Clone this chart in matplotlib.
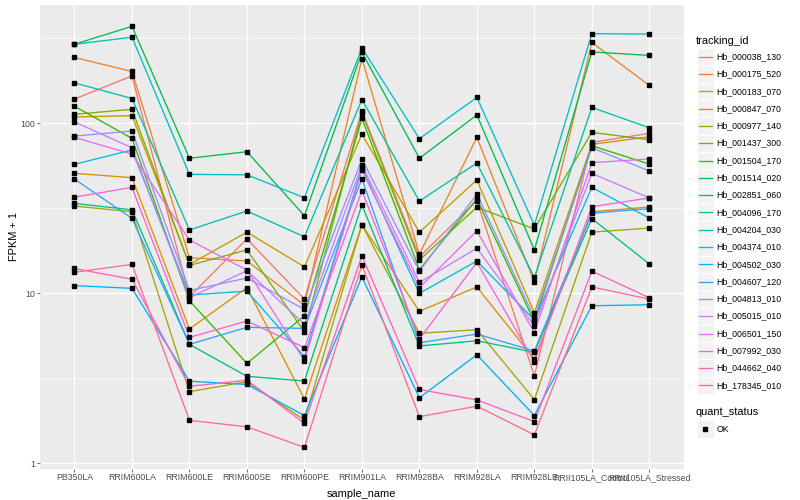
import matplotlib
matplotlib.use("Agg")
import numpy as np
import matplotlib.pyplot as plt
from matplotlib.lines import Line2D
from matplotlib.patches import Rectangle

plt.rcParams['font.family'] = ['Liberation Sans', 'DejaVu Sans']

# ---------------- data ----------------
samples = ["PB350LA", "RRIM600LA", "RRIM600LE", "RRIM600SE", "RRIM600PE",
           "RRIM901LA", "RRIM928BA", "RRIM928LA", "RRIM928LE",
           "RRII105LA_Control", "RRII105LA_Stressed"]

tracking_ids = ["Hb_000038_130", "Hb_000175_520", "Hb_000183_070", "Hb_000847_070",
                "Hb_000977_140", "Hb_001437_300", "Hb_001504_170", "Hb_001514_020",
                "Hb_002851_060", "Hb_004096_170", "Hb_004204_030", "Hb_004374_010",
                "Hb_004502_030", "Hb_004607_120", "Hb_004813_010", "Hb_005015_010",
                "Hb_006501_150", "Hb_007992_030", "Hb_044662_040", "Hb_178345_010"]

series_colors = ["#F8766D", "#EA8331", "#D89000", "#C09B00", "#A3A500", "#7CAE00",
                 "#39B600", "#00BB4E", "#00BF7D", "#00C1A3", "#00BFC4", "#00BAE0",
                 "#00B0F6", "#35A2FF", "#9590FF", "#C77CFF", "#E76BF3", "#FA62DB",
                 "#FF62BC", "#FF6C91"]

# FPKM + 1 per sample (same order as samples)
hb_000038_130 = [139, 190, 9.55, 20.9, 9.25, 118, 16.4, 35.1, 3.27, 77.3, 87.3]
hb_000175_520 = [244, 202, 16.2, 15.5, 8.53, 240, 17.0, 82.7, 11.7, 299, 167]
hb_000183_070 = [50.8, 47.9, 6.17, 10.8, 2.39, 25.3, 7.84, 10.9, 4.11, 30.2, 32.2]
hb_000847_070 = [109, 111, 14.8, 22.9, 14.3, 86.2, 22.9, 46.4, 7.69, 75.2, 83.4]
hb_000977_140 = [32.6, 30.2, 2.64, 3.02, 1.80, 25.3, 5.82, 6.11, 2.37, 22.9, 24.2]
hb_001437_300 = [113, 121, 14.6, 18.0, 5.94, 115, 15.7, 32.1, 23.9, 88.5, 80.1]
hb_001504_170 = [126, 81.6, 9.04, 3.87, 7.38, 107, 13.8, 35.9, 6.81, 73.8, 57.6]
hb_001514_020 = [292, 372, 62.3, 68.1, 28.6, 262, 62.3, 112, 18.0, 263, 251]
hb_002851_060 = [33.8, 31.0, 5.01, 3.25, 3.05, 33.1, 4.90, 5.26, 4.50, 27.5, 14.9]
hb_004096_170 = [173, 140, 23.6, 30.5, 21.5, 138, 34.9, 58.4, 12.4, 124, 94.2]
hb_004204_030 = [292, 321, 50.1, 49.8, 36.5, 278, 81.2, 142, 25.2, 337, 335]
hb_004374_010 = [57.4, 69.7, 9.77, 10.3, 4.24, 54.8, 10.0, 15.5, 6.97, 42.0, 27.7]
hb_004502_030 = [11.1, 10.7, 3.04, 2.91, 1.91, 12.5, 2.43, 4.35, 1.91, 8.45, 8.57]
hb_004607_120 = [47.0, 27.6, 5.01, 6.31, 6.22, 47.2, 5.12, 5.76, 4.58, 29.6, 31.5]
hb_004813_010 = [84.2, 90.1, 10.4, 12.3, 8.05, 61.7, 13.5, 38.4, 7.18, 71.8, 52.4]
hb_005015_010 = [102, 71.8, 9.45, 13.6, 6.57, 56.9, 11.6, 18.4, 6.45, 50.8, 36.4]
hb_006501_150 = [82.7, 65.9, 20.6, 13.7, 4.01, 53.1, 10.8, 23.3, 5.87, 58.7, 61.7]
hb_007992_030 = [36.8, 42.0, 5.51, 6.87, 4.79, 40.1, 5.39, 15.2, 3.96, 32.3, 36.4]
hb_044662_040 = [14.0, 12.1, 2.84, 3.08, 1.72, 16.6, 2.72, 2.36, 1.76, 13.5, 9.42]
hb_178345_010 = [13.3, 14.8, 1.79, 1.64, 1.24, 14.7, 1.88, 2.17, 1.47, 10.9, 9.25]

series_values = [hb_000038_130, hb_000175_520, hb_000183_070, hb_000847_070,
                 hb_000977_140, hb_001437_300, hb_001504_170, hb_001514_020,
                 hb_002851_060, hb_004096_170, hb_004204_030, hb_004374_010,
                 hb_004502_030, hb_004607_120, hb_004813_010, hb_005015_010,
                 hb_006501_150, hb_007992_030, hb_044662_040, hb_178345_010]

quant_status = ["OK"]
y_breaks = [1, 10, 100]
y_labels = ["1", "10", "100"]

# ---------------- figure ----------------
W, H = 800, 500
fig = plt.figure(figsize=(W / 100, H / 100), dpi=100)
fig.patch.set_facecolor("white")

# panel in pixel coordinates
pl, pr, pt, pb = 40.0, 683.8, 5.3, 468.5
ax = fig.add_axes([pl / W, 1 - pb / H, (pr - pl) / W, (pb - pt) / H])
ax.set_facecolor("#EBEBEB")
for s in ax.spines.values():
    s.set_visible(False)

x = np.arange(len(samples))
for vals, col in zip(series_values, series_colors):
    ax.plot(x, vals, color=col, lw=0.95, zorder=3, solid_joinstyle="miter")
for vals in series_values:
    ax.plot(x, vals, linestyle="none", marker="s", markersize=2.4,
            color="black", zorder=4)

ax.set_yscale("log")
allv = np.log10(np.concatenate([np.asarray(v, float) for v in series_values]))
lo, hi = allv.min(), allv.max()
pad = 0.05 * (hi - lo)
ax.set_ylim(10 ** (lo - pad), 10 ** (hi + pad))
ax.set_xlim(-0.6, len(samples) - 1 + 0.6)

ax.set_yticks(y_breaks)
ax.set_yticklabels(y_labels)
ax.set_yticks([10 ** 0.5, 10 ** 1.5, 10 ** 2.5], minor=True)
ax.yaxis.set_minor_formatter(matplotlib.ticker.NullFormatter())
ax.set_xticks(x)
ax.set_xticklabels(samples)

ax.grid(True, which="major", color="white", lw=1.0, zorder=0)
ax.grid(True, which="minor", axis="y", color="white", lw=0.5, zorder=0)
ax.set_axisbelow(True)
ax.tick_params(axis="both", which="major", length=2.0, width=0.5, color="#333333",
               labelsize=6.3, labelcolor="#4D4D4D", pad=1.5)
ax.tick_params(axis="y", which="minor", length=0)

ax.set_xlabel("sample_name", fontsize=7.9, labelpad=4.5)
ax.set_ylabel("FPKM + 1", fontsize=7.9, labelpad=1.0)

# ---------------- legend (drawn in pixel space) ----------------
def fx(px):
    return px / W

def fy(py):
    return 1 - py / H

fig.text(fx(696), fy(40.7), "tracking_id", fontsize=7.9, ha="left", va="center")
step = 17.3
for i, (tid, col) in enumerate(zip(tracking_ids, series_colors)):
    yc = 56.7 + step * i
    fig.patches.append(Rectangle((fx(696.5), fy(yc + step / 2)), 17.3 / W, step / H,
                                 transform=fig.transFigure, facecolor="#F2F2F2",
                                 edgecolor="white", lw=0.6))
    fig.lines.append(Line2D([fx(698.5), fx(711.8)], [fy(yc), fy(yc)],
                            transform=fig.transFigure, color=col, lw=0.95))
    fig.text(fx(716.5), fy(yc), tid, fontsize=6.3, ha="left", va="center")

fig.text(fx(696), fy(412), "quant_status", fontsize=7.9, ha="left", va="center")
for j, st in enumerate(quant_status):
    yc = 429 + step * j
    fig.patches.append(Rectangle((fx(696.5), fy(yc + step / 2)), 17.3 / W, step / H,
                                 transform=fig.transFigure, facecolor="#F2F2F2",
                                 edgecolor="white", lw=0.6))
    fig.lines.append(Line2D([fx(705.2)], [fy(yc)], transform=fig.transFigure,
                            marker="s", markersize=2.4, color="black", linestyle="none"))
    fig.text(fx(716.5), fy(yc), st, fontsize=6.3, ha="left", va="center")

fig.savefig("out.png", dpi=100, facecolor="white")
